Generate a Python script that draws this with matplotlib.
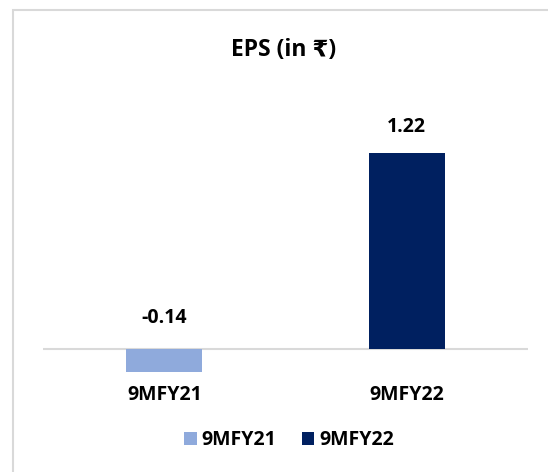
import matplotlib
matplotlib.use("Agg")
import matplotlib.pyplot as plt
from matplotlib.patches import Rectangle, Patch

categories = ["9MFY21", "9MFY22"]
values = [-0.14, 1.22]
labels = ["-0.14", "1.22"]
colors = ["#8FAADC", "#002060"]
title = "EPS (in ₹)"

FAM = ["Open Sans", "DejaVu Sans", "Noto Sans"]
plt.rcParams['font.family'] = FAM

W, H = 548, 472
fig = plt.figure(figsize=(W / 100, H / 100), dpi=100)

# figure border (only left and top edges visible)
fig.patches.append(Rectangle((13 / W, -1.0), 2.0, 2.0 - 10 / H, transform=fig.transFigure,
                             fill=False, edgecolor="#D9D9D9", linewidth=1.5))

# axes placement (pixels)
left, right = 43, 528
top, bottom = 80, 380
zero_px = 349
scale = (zero_px - 152.5) / 1.22
ax = fig.add_axes([left / W, 1 - bottom / H, (right - left) / W, (bottom - top) / H])
ax.set_xlim(-0.5, 1.5)
ax.set_ylim(-(bottom - zero_px) / scale, (zero_px - top) / scale)

x = list(range(len(categories)))
ax.bar(x, values, width=76 / 242.5, color=colors)
ax.axhline(0, color="#D9D9D9", linewidth=1.5, zorder=0)

FS = 14
for xi, v, lab in zip(x, values, labels):
    off = 25 if v > 0 else 31
    ax.annotate(lab, (xi, max(v, 0)), xytext=(0, off * 0.72), textcoords="offset points",
                ha="center", va="center", fontsize=FS, fontweight="bold", color="#000000")

ax.set_axis_off()
for xi, c in zip(x, categories):
    ax.annotate(c, (xi, 0), xytext=(0, -(395 - zero_px) * 0.72),
                textcoords="offset points", ha="center", va="center",
                fontsize=FS, fontweight="bold", color="#000000")

fig.text(284 / W, 1 - 50 / H, title, ha="center", va="center", fontsize=16.5,
         fontweight="bold", color="#000000")

handles = [Patch(facecolor=c, label=l) for c, l in zip(colors, categories)]
fig.legend(handles=handles, loc="center", bbox_to_anchor=(289 / W, 1 - 440 / H),
           ncol=2, frameon=False, prop={"weight": "bold", "size": FS},
           handlelength=0.65, handleheight=0.65, handletextpad=0.25, columnspacing=1.3)

fig.savefig("out.png", dpi=100)
